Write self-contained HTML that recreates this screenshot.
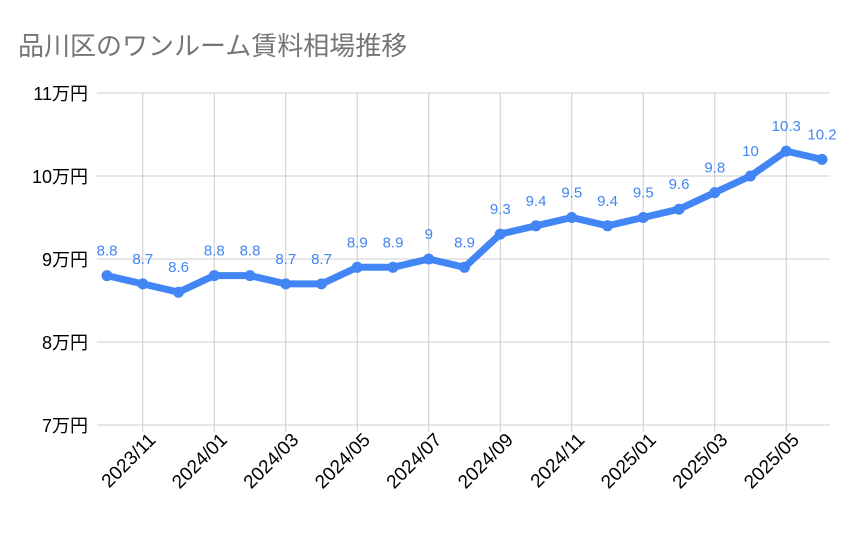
<!DOCTYPE html>
<html><head><meta charset="utf-8"><style>
body{margin:0;background:#fff;}
svg text{font-family:"Liberation Sans","Noto Sans CJK JP",sans-serif;}
</style></head><body>
<svg width="859" height="531" viewBox="0 0 859 531">
<text x="18" y="55" font-size="26" fill="#757575">品川区のワンルーム賃料相場推移</text>
<g id="grid"></g><g id="axes"></g><g id="series"></g>
</svg>
<script>
const months=["2023/10","2023/11","2023/12","2024/01","2024/02","2024/03","2024/04","2024/05","2024/06","2024/07","2024/08","2024/09","2024/10","2024/11","2024/12","2025/01","2025/02","2025/03","2025/04","2025/05","2025/06"];
const rent=[8.8,8.7,8.6,8.8,8.8,8.7,8.7,8.9,8.9,9,8.9,9.3,9.4,9.5,9.4,9.5,9.6,9.8,10,10.3,10.2];
const yTicks=[7,8,9,10,11];
const yTickLabels=["7万円","8万円","9万円","10万円","11万円"];
const NS="http://www.w3.org/2000/svg";
const x=i=>107+i*(822-107)/(months.length-1);
const y=v=>425-(v-7)*83;
function mk(t,a,p){const e=document.createElementNS(NS,t);for(const k in a)e.setAttribute(k,a[k]);p.appendChild(e);return e;}
const g=document.getElementById('grid'),ax=document.getElementById('axes'),s=document.getElementById('series');
yTicks.forEach((v,i)=>{
 const l=mk('line',{x1:97,x2:830,y1:y(v),y2:y(v),stroke:'#cccccc','stroke-width':1},g);
 
 
 const t=mk('text',{x:88,y:y(v)+7,'text-anchor':'end','font-size':18,fill:'#000'},ax);
 t.textContent=yTickLabels[i];
 
 
});
months.forEach((m,i)=>{
 if(i%2!==1)return;
 const l=mk('line',{x1:x(i),x2:x(i),y1:93,y2:432,stroke:'#cccccc','stroke-width':1},g);
 
 
 const t=mk('text',{x:x(i)+14,y:441,'text-anchor':'end','font-size':19,fill:'#000',transform:`rotate(-45 ${x(i)+14} 441)`},ax);
 t.textContent=m;
 
 
});
const pl=mk('polyline',{points:rent.map((v,i)=>x(i)+','+y(v)).join(' '),fill:'none',stroke:'#4285f4','stroke-width':7,'stroke-linejoin':'round'},s);


rent.forEach((v,i)=>{
 const c=mk('circle',{cx:x(i),cy:y(v),r:5.5,fill:'#4285f4'},s);
 
 
 const t=mk('text',{x:x(i),y:y(v)-20,'text-anchor':'middle','font-size':15,fill:'#4285f4'},s);
 t.textContent=String(v);
 
 
});
</script>
</body></html>
